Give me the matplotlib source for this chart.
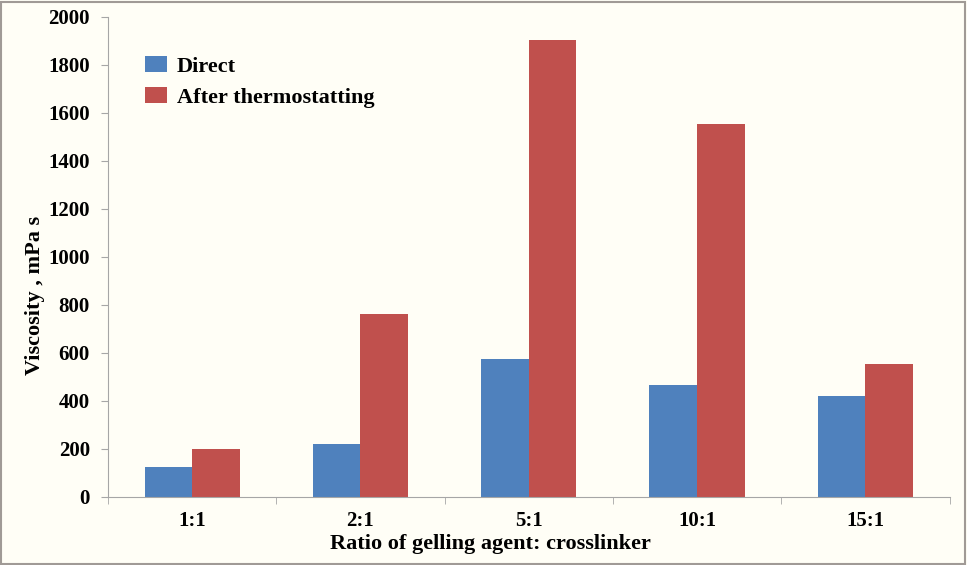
import matplotlib.pyplot as plt
from matplotlib.patches import Rectangle
import numpy as np

categories = ['1:1', '2:1', '5:1', '10:1', '15:1']
direct = [125, 220, 575, 467, 421]
after_thermo = [200, 762, 1902, 1552, 556]

plt.rcParams['font.family'] = ['Liberation Serif', 'DejaVu Serif']
plt.rcParams['font.weight'] = 'bold'

bg = '#fffef6'
fig = plt.figure(figsize=(9.67, 5.65), dpi=100, facecolor=bg)
ax = fig.add_axes([0.1117, 0.1204, 0.8703, 0.8496], facecolor=bg)

x = np.arange(len(categories))
w = 0.283
ax.bar(x - w / 2, direct, w, color='#4f81bd', label='Direct')
ax.bar(x + w / 2, after_thermo, w, color='#c0504d', label='After thermostatting')

ax.set_xlim(-0.5, len(categories) - 0.5)
ax.set_ylim(0, 2000)
ax.set_yticks(np.arange(0, 2001, 200))
ax.set_xticks(x)
ax.set_xticklabels(categories)
ax.set_xticks(np.arange(-0.5, len(categories)), minor=True)
ax.tick_params(axis='x', which='major', length=0, pad=10, labelsize=15)
ax.tick_params(axis='x', which='minor', length=5, color='#a6a6a6')
ax.tick_params(axis='y', length=5, color='#a6a6a6', labelsize=15, pad=8)
for lab in ax.get_xticklabels() + ax.get_yticklabels():
    lab.set_fontweight('bold')

for s in ['top', 'right']:
    ax.spines[s].set_visible(False)
for s in ['left', 'bottom']:
    ax.spines[s].set_color('#a6a6a6')

ax.set_ylabel('Viscosity , mPa s', fontsize=16, fontweight='bold')
ax.yaxis.set_label_coords(-0.075, 0.42)
ax.set_xlabel('Ratio of gelling agent: crosslinker', fontsize=16, fontweight='bold')
ax.xaxis.set_label_coords(0.455, -0.078)

leg = ax.legend(loc='upper left', bbox_to_anchor=(0.02, 0.96), frameon=False,
                prop={'size': 16, 'weight': 'bold'}, handlelength=1.0, handleheight=0.75,
                labelspacing=0.45, handletextpad=0.45)

fig.patches.append(Rectangle((0.001, 0.002), 0.997, 0.995, transform=fig.transFigure,
                             fill=False, edgecolor='#a09a96', linewidth=1.5))

fig.savefig('out.png', dpi=100, facecolor=bg)
